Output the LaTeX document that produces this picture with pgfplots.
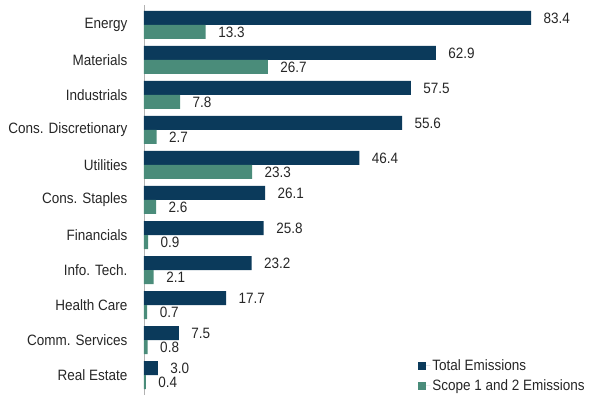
\documentclass[border=0pt]{standalone}
\usepackage{pgfplots}
\pgfplotsset{compat=1.18}
\usepackage{fontspec}
\setmainfont[FakeStretch=0.9]{Liberation Sans}
\definecolor{navy}{HTML}{0B3A5B}
\definecolor{teal}{HTML}{4A8C7A}
\begin{document}
\begin{tikzpicture}
\begin{axis}[
  at={(0pt,0pt)}, anchor=south west,
  scale only axis, width=471pt, height=390pt,
  xmin=0, xmax=101.5,
  ymin=-0.571, ymax=10.571,
  axis y line=left, axis x line=none,
  y axis line style={-, draw=gray!60, line width=0.8pt},
  xbar, bar width=14pt,
  ytick={0,...,10},
  yticklabels={Real Estate,Comm. Services,Health Care,Info. Tech.,Financials,Cons. Staples,Utilities,Cons. Discretionary,Industrials,Materials,Energy},
  major tick length=0pt,
  yticklabel style={font=\fontsize{15}{16}\selectfont, text=black!85, xshift=-13pt},
  nodes near coords,
  every node near coord/.append style={font=\fontsize{15}{16}\selectfont, text=black!85, anchor=west, xshift=9pt},
  /pgf/number format/.cd, fixed, fixed zerofill, precision=1, assume math mode=true,
  /pgfplots/.cd,
  legend style={draw=none, fill=none, at={(0.582,0.097)}, anchor=north west, font=\fontsize{15}{16}\selectfont, row sep=4pt, inner sep=0pt, text=black!85},
  legend cell align=left,
  legend image code/.code={\fill[#1] (0pt,-4pt) rectangle (8pt,4pt); \path (0pt,0pt) -- (12pt,0pt);},
]
\addplot+[draw=none, fill=navy, bar shift=7pt] coordinates {
(3.0,0) (7.5,1) (17.7,2) (23.2,3) (25.8,4) (26.1,5) (46.4,6) (55.6,7) (57.5,8) (62.9,9) (83.4,10)};
\addplot+[draw=none, fill=teal, bar shift=-7pt] coordinates {
(0.4,0) (0.8,1) (0.7,2) (2.1,3) (0.9,4) (2.6,5) (23.3,6) (2.7,7) (7.8,8) (26.7,9) (13.3,10)};
\legend{Total Emissions, Scope 1 and 2 Emissions}
\end{axis}
\pgfresetboundingbox
\path[use as bounding box] (-144pt,-4pt) rectangle (471pt,395pt);
\end{tikzpicture}
\end{document}
